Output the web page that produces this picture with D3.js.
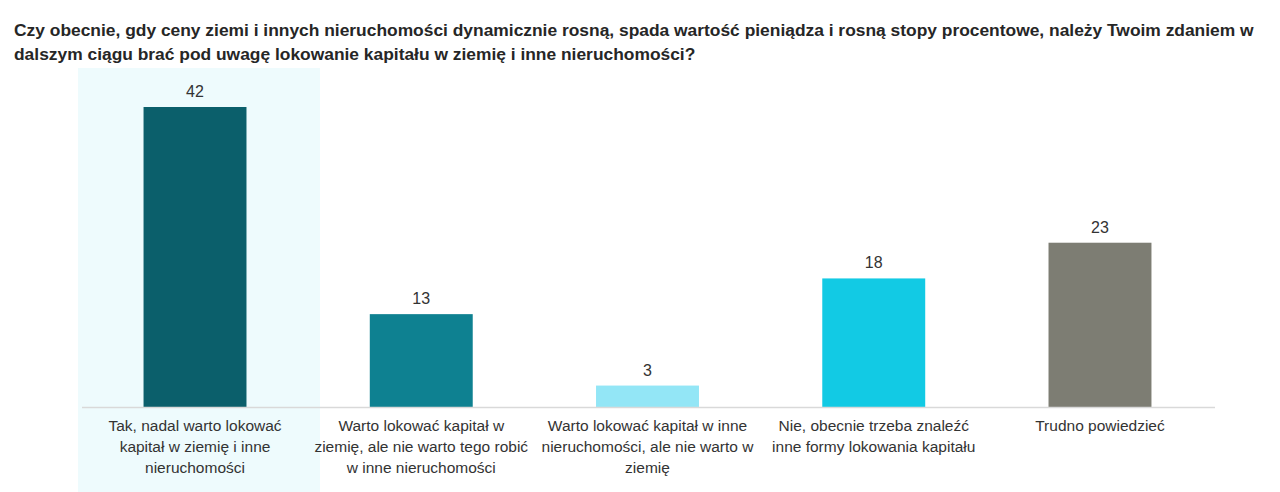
<!DOCTYPE html>
<html><head><meta charset="utf-8">
<script src="https://cdn.jsdelivr.net/npm/d3@7"></script>
<style>body{margin:0;background:#fff}svg{display:block}</style>
</head><body>
<svg id="c" width="1280" height="492"></svg>
<script>
const titleLines = [
  "Czy obecnie, gdy ceny ziemi i innych nieruchomości dynamicznie rosną, spada wartość pieniądza i rosną stopy procentowe, należy Twoim zdaniem w",
  "dalszym ciągu brać pod uwagę lokowanie kapitału w ziemię i inne nieruchomości?"
];
const categories = [
  ["Tak, nadal warto lokować", "kapitał w ziemię i inne", "nieruchomości"],
  ["Warto lokować kapitał w", "ziemię, ale nie warto tego robić", "w inne nieruchomości"],
  ["Warto lokować kapitał w inne", "nieruchomości, ale nie warto w", "ziemię"],
  ["Nie, obecnie trzeba znaleźć", "inne formy lokowania kapitału"],
  ["Trudno powiedzieć"]
];
const values = [42, 13, 3, 18, 23];
const colors = ["#0b5f6b", "#0e8191", "#93e6f6", "#12cae4", "#7d7d73"];

const svg = d3.select("#c");
const x = d3.scaleBand().domain(d3.range(values.length)).range([82, 1213]).paddingInner(0.545).paddingOuter(0.272);
const y = d3.scaleLinear().domain([0, 42]).range([407, 107]);

// highlight for first category
svg.append("rect")
  .attr("x", x(0) + x.bandwidth()/2 - 117).attr("width", 242)
  .attr("y", 68).attr("height", 424)
  .attr("fill", "#eefbfd");

svg.append("g").selectAll("text").data(titleLines).join("text")
  .attr("x", 14).attr("y", (d,i) => 36 + i*24)
  .attr("font-family", "Liberation Sans, Arial, sans-serif").attr("font-weight", "bold")
  .attr("font-size", 17.4).attr("fill", "#262626").text(d => d);

svg.append("g").selectAll("rect").data(values).join("rect")
  .attr("x", (d,i) => x(i)).attr("width", x.bandwidth())
  .attr("y", d => y(d)).attr("height", d => y(0) - y(d))
  .attr("fill", (d,i) => colors[i]);

svg.append("line").attr("x1", 82).attr("x2", 1215).attr("y1", y(0)+0.5).attr("y2", y(0)+0.5)
  .attr("stroke", "#d9d9d9").attr("stroke-width", 1.5);

svg.append("g").selectAll("text").data(values).join("text")
  .attr("x", (d,i) => x(i) + x.bandwidth()/2).attr("y", d => y(d) - 10)
  .attr("text-anchor", "middle").attr("font-family", "Liberation Sans, Arial, sans-serif")
  .attr("font-size", 16).attr("fill", "#333").text(d => d);

const lab = svg.append("g").selectAll("text").data(categories).join("text")
  .attr("text-anchor", "middle").attr("font-family", "Liberation Sans, Arial, sans-serif")
  .attr("font-size", 15.5).attr("fill", "#333");
lab.each(function(lines, i) {
  d3.select(this).selectAll("tspan").data(lines).join("tspan")
    .attr("x", x(i) + x.bandwidth()/2).attr("y", (d,j) => 431 + j*21).text(d => d);
});
</script>
</body></html>
